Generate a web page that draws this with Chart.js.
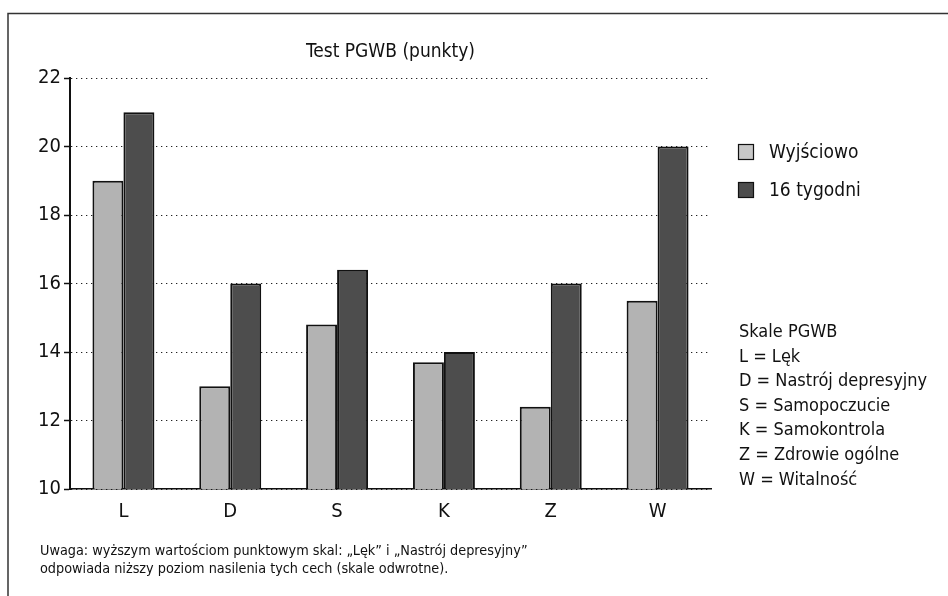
<!DOCTYPE html>
<html>
<head>
<meta charset="utf-8">
<script src="https://cdn.jsdelivr.net/npm/chart.js@4.4.1/dist/chart.umd.min.js"></script>
<style>
  html, body { margin: 0; padding: 0; background: #fff; }
  #wrap { width: 948px; height: 596px; }
</style>
</head>
<body>
<div id="wrap"><canvas id="chart" width="948" height="596"></canvas></div>
<script>
// ---- data ----------------------------------------------------------------
const categories = ["L", "D", "S", "K", "Z", "W"];
const seriesNames = ["Wyjściowo", "16 tygodni"];
const baseline = [19, 13, 14.8, 13.7, 12.4, 15.5];
const week16 = [21, 16, 16.4, 14, 16, 20];
const yMin = 10, yMax = 22, yStep = 2;

const chartTitle = "Test PGWB (punkty)";
const scaleKey = [
  "Skale PGWB",
  "L = Lęk",
  "D = Nastrój depresyjny",
  "S = Samopoczucie",
  "K = Samokontrola",
  "Z = Zdrowie ogólne",
  "W = Witalność",
];
const noteLines = [
  "Uwaga: wyższym wartościom punktowym skal: „Lęk” i „Nastrój depresyjny”",
  "odpowiada niższy poziom nasilenia tych cech (skale odwrotne).",
];

// ---- style ---------------------------------------------------------------
const FONT = "'Liberation Sans Narrow', 'DejaVu Sans Condensed', 'Liberation Sans', sans-serif";
const lightGrey = "#b3b3b3";
const darkGrey = "#4d4d4d";
const ink = "#111111";

Chart.defaults.font.family = FONT;
Chart.defaults.color = ink;

// title, frame, legend, key and footnote drawn around the plot
const extras = {
  id: "extras",
  afterDraw(chart) {
    const ctx = chart.ctx;
    const area = chart.chartArea;
    ctx.save();

    // frame (open to the right and bottom)
    ctx.strokeStyle = "#333";
    ctx.lineWidth = 1.5;
    ctx.beginPath();
    ctx.moveTo(8, 600);
    ctx.lineTo(8, 13.5);
    ctx.lineTo(952, 13.5);
    ctx.stroke();

    // title centred over the plot area
    ctx.fillStyle = ink;
    ctx.font = "19px " + FONT;
    ctx.textAlign = "center";
    ctx.textBaseline = "middle";
    ctx.fillText(chartTitle, (area.left + area.right) / 2, 52);
    ctx.textAlign = "left";

    // legend
    const legendFill = ["#c8c8c8", darkGrey];
    ctx.font = "19px " + FONT;
    chart.data.datasets.forEach((ds, i) => {
      const y = 152 + i * 38;
      ctx.fillStyle = legendFill[i];
      ctx.fillRect(738, y - 8, 16, 16);
      ctx.strokeStyle = ink;
      ctx.lineWidth = 1.2;
      ctx.strokeRect(738.5, y - 7.5, 15, 15);
      ctx.fillStyle = ink;
      ctx.fillText(ds.label, 769, y + 1);
    });

    // scale key
    ctx.font = "18px " + FONT;
    ctx.textBaseline = "alphabetic";
    scaleKey.forEach((line, i) => {
      ctx.fillText(line, 739, 337 + i * 24.6);
    });

    // footnote
    ctx.font = "14.3px " + FONT;
    noteLines.forEach((line, i) => {
      ctx.fillText(line, 40, 555 + i * 18);
    });

    ctx.restore();
  },
};

new Chart(document.getElementById("chart"), {
  type: "bar",
  data: {
    labels: categories,
    datasets: [
      {
        label: seriesNames[0],
        data: baseline,
        backgroundColor: lightGrey,
        borderColor: ink,
        borderWidth: 2,
      },
      {
        label: seriesNames[1],
        data: week16,
        backgroundColor: darkGrey,
        borderColor: ink,
        borderWidth: 2,
      },
    ],
  },
  options: {
    responsive: false,
    animation: false,
    devicePixelRatio: 1,
    layout: { padding: { left: 0, right: 237, top: 78, bottom: 0 } },
    datasets: { bar: { categoryPercentage: 0.58, barPercentage: 1.0 } },
    plugins: {
      legend: { display: false },
      tooltip: { enabled: false },
      title: { display: false },
    },
    scales: {
      x: {
        grid: { display: false, drawTicks: false },
        border: { display: true, color: ink, width: 1.5 },
        ticks: { font: { size: 20 }, color: ink, padding: 11 },
        afterFit(scale) { scale.height = 107; },
      },
      y: {
        min: yMin,
        max: yMax,
        grid: {
          color: "#222",
          lineWidth: 1,
          tickLength: 6,
          tickColor: ink,
          tickWidth: 1.5,
          tickBorderDash: [],
        },
        border: { display: true, color: ink, width: 2, dash: [1.3, 3.7] },
        ticks: { stepSize: yStep, font: { size: 20 }, color: ink, padding: 3 },
        afterFit(scale) { scale.width = 70; },
      },
    },
  },
  plugins: [extras],
});
</script>
</body>
</html>
